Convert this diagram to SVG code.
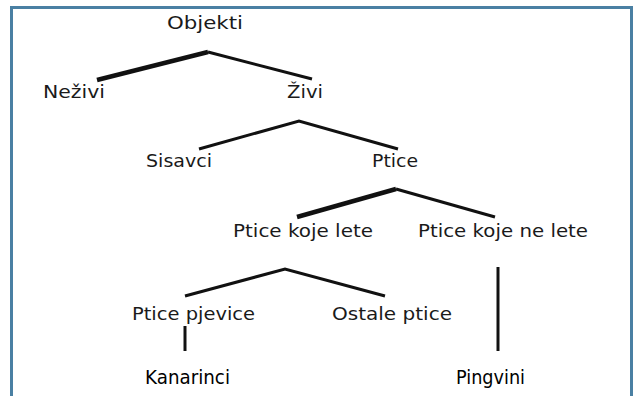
<svg xmlns="http://www.w3.org/2000/svg" width="633" height="396" viewBox="0 0 633 396">
<style>
.t{font-family:"Comic Sans MS","DejaVu Sans",sans-serif;font-size:18px;fill:#1a1a1a;text-anchor:middle}
.b{font-size:20px;fill:#000}
.l{stroke:#111;stroke-width:3;fill:none;stroke-linecap:butt;stroke-linejoin:miter}
.th{stroke-width:4.5}
</style>
<rect x="0" y="0" width="633" height="396" fill="#fff"/>
<rect x="11.5" y="7.5" width="620" height="400" fill="#fff" stroke="#4a80a3" stroke-width="3"/>
<g id="connectors">
<path class="l th" d="M97 80 L208 52"/>
<path class="l" d="M208 52 L312 79"/>
<path class="l" d="M199 149 L299 121 L398 149"/>
<path class="l th" d="M297 217 L396 189"/>
<path class="l" d="M396 189 L495 217"/>
<path class="l" d="M185 296 L285 269 L385 296"/>
<path class="l" d="M498 267 L498 351"/>
<path class="l" d="M185 326 L185 351"/>
</g>
<g id="objekti"><text class="t" x="205" y="29" textLength="76" lengthAdjust="spacingAndGlyphs">Objekti</text></g>
<g id="nezivi"><text class="t" x="74" y="98" textLength="62" lengthAdjust="spacingAndGlyphs">Neživi</text></g>
<g id="zivi"><text class="t" x="305" y="98" textLength="36" lengthAdjust="spacingAndGlyphs">Živi</text></g>
<g id="sisavci"><text class="t" x="179" y="167" textLength="66" lengthAdjust="spacingAndGlyphs">Sisavci</text></g>
<g id="ptice"><text class="t" x="395" y="167" textLength="46" lengthAdjust="spacingAndGlyphs">Ptice</text></g>
<g id="ptice-koje-lete"><text class="t" x="303" y="237" textLength="140" lengthAdjust="spacingAndGlyphs">Ptice koje lete</text></g>
<g id="ptice-koje-ne-lete"><text class="t" x="503" y="237" textLength="170" lengthAdjust="spacingAndGlyphs">Ptice koje ne lete</text></g>
<g id="ptice-pjevice"><text class="t" x="193.5" y="320" textLength="123" lengthAdjust="spacingAndGlyphs">Ptice pjevice</text></g>
<g id="ostale-ptice"><text class="t" x="392" y="320" textLength="120" lengthAdjust="spacingAndGlyphs">Ostale ptice</text></g>
<g id="kanarinci"><text class="t b" x="187.5" y="384" textLength="85" lengthAdjust="spacingAndGlyphs">Kanarinci</text></g>
<g id="pingvini"><text class="t b" x="490.5" y="384" textLength="69" lengthAdjust="spacingAndGlyphs">Pingvini</text></g>
</svg>
